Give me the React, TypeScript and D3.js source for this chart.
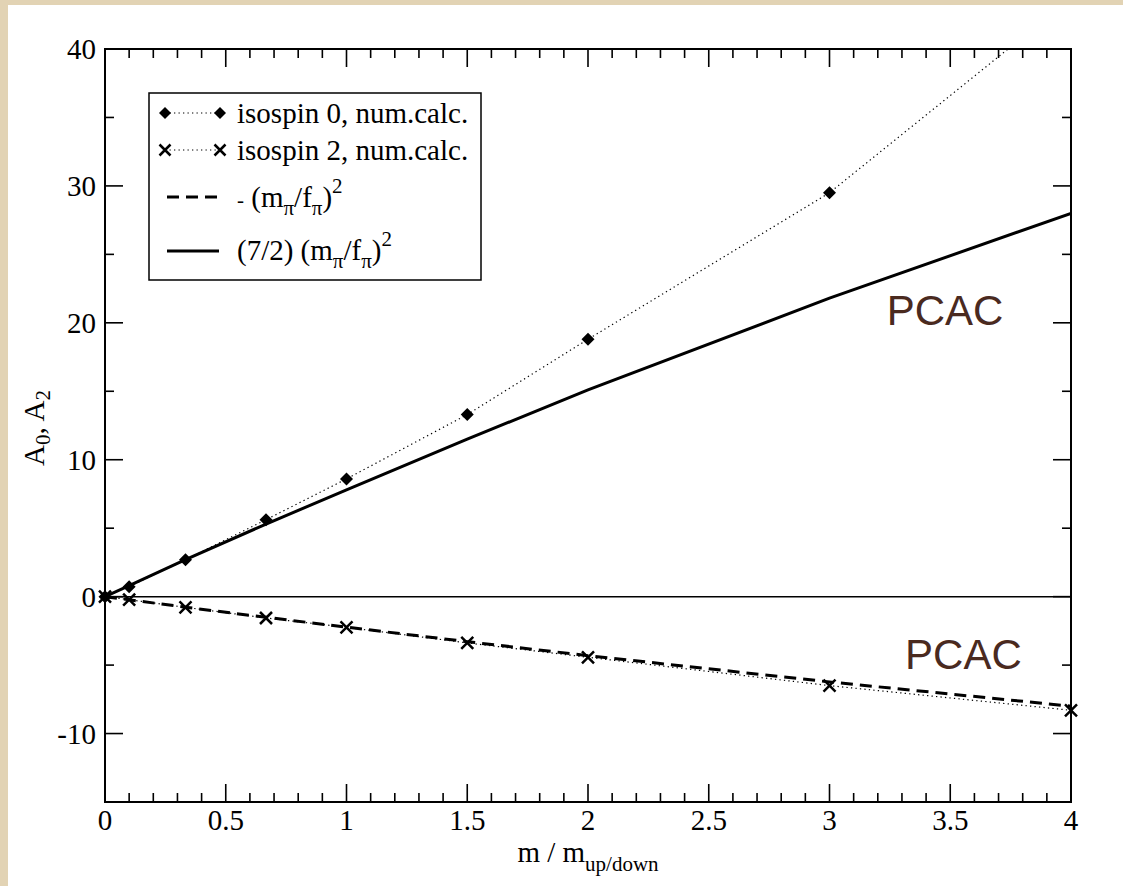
import React from "react";
import * as d3 from "d3";

// ---------- data ----------
const massRatio = [0, 0.1, 0.3333, 0.6667, 1, 1.5, 2, 3, 4];
const isospin0 = [0, 0.73, 2.7, 5.62, 8.6, 13.3, 18.8, 29.5, 43.7];
const isospin2 = [0, -0.22, -0.78, -1.56, -2.24, -3.38, -4.43, -6.5, -8.3];
const pcacI0 = [0, 0.8, 2.7, 5.3, 7.8, 11.5, 15.1, 21.8, 28.0];
const pcacI2 = [0, -0.23, -0.77, -1.51, -2.23, -3.29, -4.31, -6.23, -8.0];
const xTickLabels = [0, 0.5, 1, 1.5, 2, 2.5, 3, 3.5, 4];
const yTickLabels = [-10, 0, 10, 20, 30, 40];

const W = 1123;
const H = 886;
const left = 105, right = 1071, top = 49, bottom = 802;
const serif = "'Liberation Serif', 'Times New Roman', serif";
const sans = "'Liberation Sans', Arial, sans-serif";

export default function App() {
  const x = d3.scaleLinear().domain([0, 4]).range([left, right]);
  const y = d3.scaleLinear().domain([-15, 40]).range([bottom, top]);

  const pts = (ys: number[]) => massRatio.map((m, i) => [m, ys[i]] as [number, number]);
  const line = d3.line<[number, number]>().x((d) => x(d[0])).y((d) => y(d[1]));

  const xMinor = d3.range(0, 4.0001, 0.1).map((v) => +v.toFixed(2));
  const yMinor = d3.range(-15, 40.001, 5);

  const diamond = (cx: number, cy: number, r = 6.5, key?: any) => (
    <path key={key} d={`M${cx},${cy - r}L${cx + r},${cy}L${cx},${cy + r}L${cx - r},${cy}Z`} fill="#000" />
  );
  const cross = (cx: number, cy: number, r = 6, key?: any) => (
    <path key={key} d={`M${cx - r},${cy - r}L${cx + r},${cy + r}M${cx - r},${cy + r}L${cx + r},${cy - r}`} stroke="#000" strokeWidth={2.5} />
  );

  const isMajorX = (v: number) => Math.abs(v * 2 - Math.round(v * 2)) < 1e-6;
  const isMajorY = (v: number) => v % 10 === 0;

  return (
    <svg width={W} height={H} style={{ position: "fixed", left: 0, top: 0 }}>
      <defs>
        <clipPath id="plotClip">
          <rect x={left} y={top} width={right - left} height={bottom - top} />
        </clipPath>
      </defs>
      <rect x={0} y={0} width={W} height={H} fill="#e2d3b4" />
      <rect x={8} y={5} width={W - 8} height={H - 5} fill="#fff" />

      {/* zero line */}
      <line x1={left} x2={right} y1={y(0)} y2={y(0)} stroke="#000" strokeWidth={1.5} />

      <g clipPath="url(#plotClip)">
        <path d={line(pts(pcacI0)) || ""} fill="none" stroke="#000" strokeWidth={3} />
        <path d={line(pts(pcacI2)) || ""} fill="none" stroke="#000" strokeWidth={3} strokeDasharray="12,7" />
        <path d={line(pts(isospin0)) || ""} fill="none" stroke="#000" strokeWidth={1.2} strokeDasharray="1.3,3.2" />
        <path d={line(pts(isospin2)) || ""} fill="none" stroke="#000" strokeWidth={1.2} strokeDasharray="1.3,3.2" />
      </g>
      {massRatio.map((m, i) => (isospin0[i] <= 40 ? diamond(x(m), y(isospin0[i]), 6.5, "d" + i) : null))}
      {massRatio.map((m, i) => cross(x(m), y(isospin2[i]), 6, "c" + i))}

      {/* frame */}
      <rect x={left} y={top} width={right - left} height={bottom - top} fill="none" stroke="#000" strokeWidth={2} />

      {/* x ticks */}
      {xMinor.map((v, i) => {
        const len = isMajorX(v) ? 18 : 9;
        return (
          <g key={"xt" + i} stroke="#000" strokeWidth={1.6}>
            <line x1={x(v)} x2={x(v)} y1={bottom} y2={bottom - len} />
            <line x1={x(v)} x2={x(v)} y1={top} y2={top + len} />
          </g>
        );
      })}
      {yMinor.map((v, i) => {
        const len = isMajorY(v) ? 18 : 9;
        return (
          <g key={"yt" + i} stroke="#000" strokeWidth={1.6}>
            <line x1={left} x2={left + len} y1={y(v)} y2={y(v)} />
            <line x1={right} x2={right - len} y1={y(v)} y2={y(v)} />
          </g>
        );
      })}
      {xTickLabels.map((v) => (
        <text key={"xl" + v} x={x(v)} y={bottom + 28} textAnchor="middle" fontFamily={serif} fontSize={29} fill="#000">
          {String(v)}
        </text>
      ))}
      {yTickLabels.map((v) => (
        <text key={"yl" + v} x={left - 9} y={y(v) + 10} textAnchor="end" fontFamily={serif} fontSize={29} fill="#000">
          {String(v)}
        </text>
      ))}

      {/* axis titles */}
      <text x={(left + right) / 2} y={862} textAnchor="middle" fontFamily={serif} fontSize={29} fill="#000">
        m / m<tspan fontSize={21} dy={9}>up/down</tspan>
      </text>
      <text transform="rotate(-90)" x={-428} y={44} textAnchor="middle" fontFamily={serif} fontSize={29} fill="#000">
        A<tspan fontSize={21} dy={6}>0</tspan>
        <tspan dy={-6}>, A</tspan>
        <tspan fontSize={21} dy={6}>2</tspan>
      </text>

      {/* PCAC labels */}
      <text x={x(3.237)} y={y(19.85)} fontFamily={sans} fontSize={42} fill="#4a2a1f">PCAC</text>
      <text x={x(3.313)} y={y(-5.28)} fontFamily={sans} fontSize={42} fill="#4a2a1f">PCAC</text>

      {/* legend */}
      <rect x={149} y={93} width={332} height={187} fill="#fff" stroke="#000" strokeWidth={1.5} />
      <line x1={165} x2={220} y1={113} y2={113} stroke="#000" strokeWidth={1.2} strokeDasharray="1.3,3.2" />
      {diamond(165, 113, 6)}
      {diamond(220, 113, 6)}
      <text x={237} y={123} fontFamily={serif} fontSize={29} fill="#000">isospin 0, num.calc.</text>

      <line x1={165} x2={220} y1={150} y2={150} stroke="#000" strokeWidth={1.2} strokeDasharray="1.3,3.2" />
      {cross(165, 150, 5.5)}
      {cross(220, 150, 5.5)}
      <text x={237} y={160} fontFamily={serif} fontSize={29} fill="#000">isospin 2, num.calc.</text>

      <line x1={167} x2={219} y1={197} y2={197} stroke="#000" strokeWidth={3} strokeDasharray="12,7" />
      <text x={237} y={207} fontFamily={serif} fontSize={29} fill="#000">
        <tspan fontSize={21}>-</tspan> (m<tspan fontSize={21} dy={8}>π</tspan>
        <tspan dy={-8}>/f</tspan>
        <tspan fontSize={21} dy={8}>π</tspan>
        <tspan dy={-8}>)</tspan>
        <tspan fontSize={21} dy={-14}>2</tspan>
      </text>

      <line x1={167} x2={219} y1={251} y2={251} stroke="#000" strokeWidth={3} />
      <text x={237} y={260} fontFamily={serif} fontSize={29} fill="#000">
        (7/2) (m<tspan fontSize={21} dy={8}>π</tspan>
        <tspan dy={-8}>/f</tspan>
        <tspan fontSize={21} dy={8}>π</tspan>
        <tspan dy={-8}>)</tspan>
        <tspan fontSize={21} dy={-14}>2</tspan>
      </text>
    </svg>
  );
}
